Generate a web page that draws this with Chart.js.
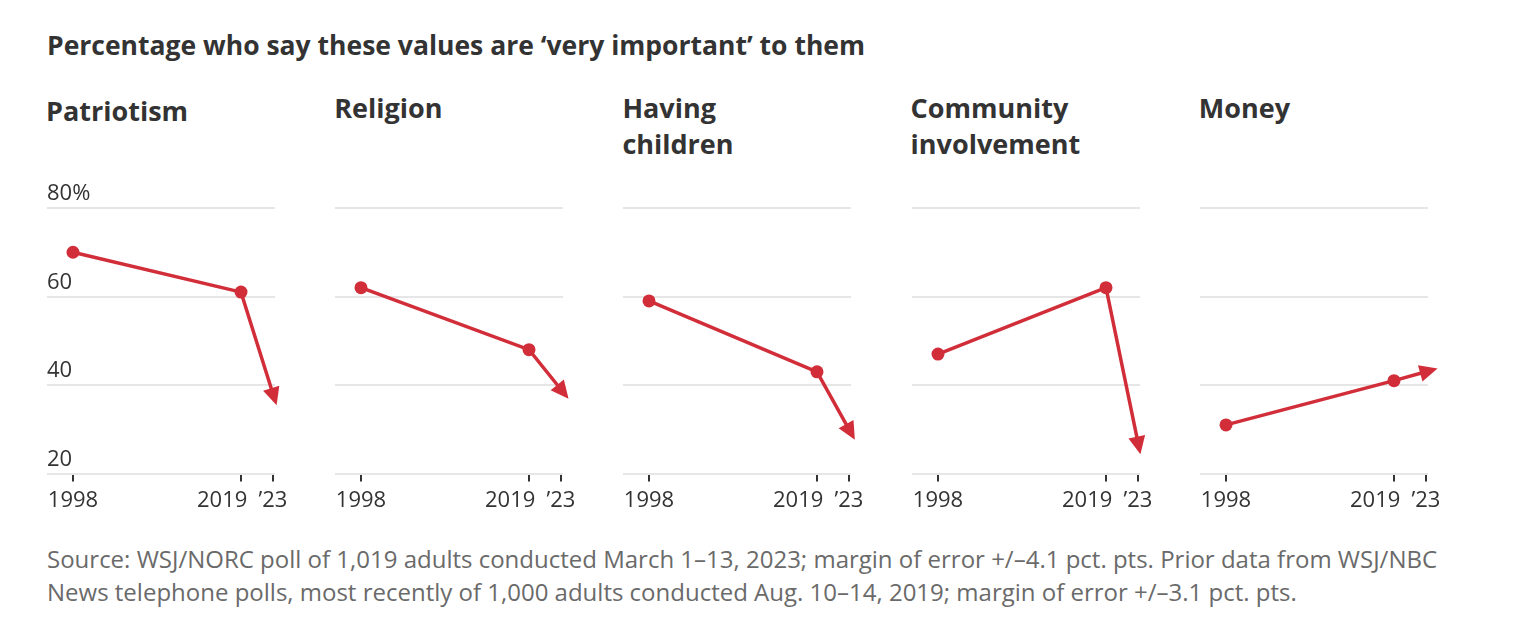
<!DOCTYPE html>
<html>
<head>
<meta charset="utf-8">
<script src="https://cdn.jsdelivr.net/npm/chart.js@4.4.1/dist/chart.umd.min.js"></script>
<style>
  body { margin: 0; background: #fff; width: 1522px; height: 634px; position: relative; overflow: hidden; font-family: "Open Sans", sans-serif; }
  .rubrik { position: absolute; left: 47px; top: 30px; font-size: 26.5px; line-height: 30px; font-weight: 700; color: #333; white-space: nowrap; }
  .paneltitel { position: absolute; top: 90px; font-size: 27px; line-height: 36px; font-weight: 700; color: #333; }
  .panel { position: absolute; top: 180px; width: 260px; height: 350px; }
  .kalla { position: absolute; left: 47px; top: 542px; font-size: 24px; line-height: 33px; color: #6a6a6a; white-space: nowrap; }
</style>
</head>
<body>
<div class="rubrik">Percentage who say these values are ‘very important’ to them</div>
<div class="kalla">Source: WSJ/NORC poll of 1,019 adults conducted March 1–13, 2023; margin of error +/–4.1 pct. pts. Prior data from WSJ/NBC<br>News telephone polls, most recently of 1,000 adults conducted Aug. 10–14, 2019; margin of error +/–3.1 pct. pts.</div>

<script>
// Data
const years = [1998, 2019, 2023];
const yearLabels = ['1998', '2019', '’23'];
const panelTitles = ['Patriotism', 'Religion', 'Having<br>children', 'Community<br>involvement', 'Money'];
const patriotism = [70, 61, 38];
const religion = [62, 48, 39];
const children = [59, 43, 30];
const community = [47, 62, 27];
const money = [31, 41, 43];
const yTicks = [20, 40, 60, 80];

const seriesList = [patriotism, religion, children, community, money];

const rod = '#d12e3a';
const axelFont = '"Open Sans", sans-serif';

// Pilspets på sista punkten
const pilPlugin = {
    id: 'pil',
    afterDatasetsDraw(chart) {
        const pts = chart.getDatasetMeta(0).data;
        const a = pts[pts.length - 2];
        const b = pts[pts.length - 1];
        const dx = b.x - a.x, dy = b.y - a.y;
        const len = Math.sqrt(dx * dx + dy * dy);
        const ux = dx / len, uy = dy / len;
        const ctx = chart.ctx;
        ctx.save();
        ctx.fillStyle = rod;
        ctx.beginPath();
        ctx.moveTo(b.x + ux * 12, b.y + uy * 12);
        ctx.lineTo(b.x - ux * 6 - uy * 8.5, b.y - uy * 6 + ux * 8.5);
        ctx.lineTo(b.x - ux * 6 + uy * 8.5, b.y - uy * 6 - ux * 8.5);
        ctx.closePath();
        ctx.fill();
        ctx.restore();
    }
};

function skapaPanel(i) {
    const left = 47 + 288.2 * i;

    const titel = document.createElement('div');
    titel.className = 'paneltitel';
    titel.style.left = (left - 1) + 'px';
    if (i === 0) titel.style.top = '93px';
    titel.innerHTML = panelTitles[i];
    document.body.appendChild(titel);

    const box = document.createElement('div');
    box.className = 'panel';
    box.style.left = (left - 10) + 'px';
    const canvas = document.createElement('canvas');
    box.appendChild(canvas);
    document.body.appendChild(box);

    const data = seriesList[i];

    new Chart(canvas, {
        type: 'line',
        data: {
            datasets: [{
                data: years.map((y, k) => ({ x: y, y: data[k] })),
                borderColor: rod,
                backgroundColor: rod,
                borderWidth: 3.5,
                pointRadius: ctx => ctx.dataIndex === years.length - 1 ? 0 : 6.5,
                pointBorderWidth: 0,
                clip: false
            }]
        },
        options: {
            responsive: true,
            maintainAspectRatio: false,
            animation: false,
            events: [],
            layout: { padding: { left: 10, right: 22, top: 28, bottom: 10 } },
            plugins: { legend: { display: false }, tooltip: { enabled: false } },
            scales: {
                x: {
                    type: 'linear',
                    min: 1994.75,
                    max: 2023.25,
                    afterBuildTicks: scale => { scale.ticks = years.map(v => ({ value: v })); },
                    border: { display: false },
                    grid: { drawOnChartArea: false, drawTicks: true, tickLength: 8, color: '#333', lineWidth: 2 },
                    ticks: {
                        padding: 6,
                        maxRotation: 0,
                        autoSkip: false,
                        color: '#333',
                        font: { family: axelFont, size: 22 },
                        // 2019 flyttas lite åt vänster, som i originalet
                        callback: v => {
                            const k = years.indexOf(v);
                            if (k === 1) return yearLabels[k] + '\u2007\u2007\u2007';
                            return yearLabels[k];
                        }
                    }
                },
                y: {
                    min: 20,
                    max: 80,
                    afterBuildTicks: scale => { scale.ticks = yTicks.map(v => ({ value: v })); },
                    border: { display: false },
                    grid: { color: '#e6e6e6', lineWidth: 2, drawTicks: false },
                    ticks: {
                        display: i === 0,
                        mirror: true,
                        padding: 0,
                        labelOffset: -14,
                        color: '#333',
                        font: { family: axelFont, size: 22 },
                        callback: v => v === 80 ? '80%' : v
                    }
                }
            }
        },
        plugins: [pilPlugin]
    });
}

for (let i = 0; i < seriesList.length; i++) {
    skapaPanel(i);
}
</script>
</body>
</html>
